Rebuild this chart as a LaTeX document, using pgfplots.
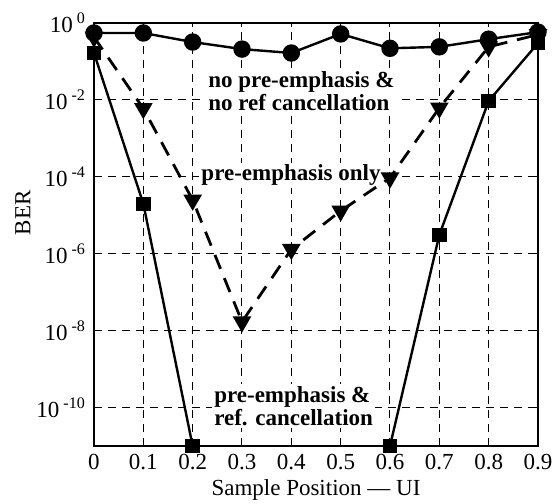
\documentclass[border=0pt]{standalone}
\usepackage{fontspec}
\setmainfont{Liberation Serif}
\usepackage{pgfplots}
\pgfplotsset{compat=1.18}

\begin{document}
\fontsize{11.5}{13}\selectfont
\begin{tikzpicture}
\begin{semilogyaxis}[
  scale only axis,
  width=222pt, height=211.5pt,
  xmin=0, xmax=0.9, ymin=1e-11, ymax=1,
  xtick={0,0.1,0.2,0.3,0.4,0.5,0.6,0.7,0.8,0.9},
  xticklabels={0,0.1,0.2,0.3,0.4,0.5,0.6,0.7,0.8,0.9},
  ytick={1,1e-2,1e-4,1e-6,1e-8,1e-10},
  yticklabels={10\hspace{2pt}\textsuperscript{0},10\hspace{2pt}\textsuperscript{-2},10\hspace{2pt}\textsuperscript{-4},10\hspace{2pt}\textsuperscript{-6},10\hspace{2pt}\textsuperscript{-8},10\hspace{2pt}\textsuperscript{-10}},
  yminorticks=false,
  grid=major,
  major grid style={black, line width=0.5pt, dash pattern=on 4pt off 3pt},
  axis line style={line width=1.1pt},
  tick style={black, line width=0.5pt},
  major tick length=2pt,
  tick align=inside,
  clip=false,
  xlabel={Sample Position --- UI},
  ylabel={BER},
  every axis x label/.style={at={(rel axis cs:0.5,-0.105)}, anchor=center},
  every axis y label/.style={at={(rel axis cs:-0.16,0.551)}, rotate=90, anchor=center},
]
\coordinate (bbsw) at (rel axis cs:-0.2117,-0.1348);
\coordinate (bbne) at (rel axis cs:1.0428,1.0544);

\node[anchor=west, align=left, fill=white, inner sep=1pt,
  font=\bfseries\fontsize{11.5}{11.5}\selectfont]
  at (axis cs:0.227,0.0166) {no pre-emphasis \&\\no ref cancellation};
\node[anchor=west, fill=white, inner sep=1pt, font=\bfseries\fontsize{11.5}{11.5}\selectfont]
  at (axis cs:0.213,1.1e-4) {pre-emphasis only};
\node[anchor=west, align=left, fill=white, inner sep=1pt,
  font=\bfseries\fontsize{11.5}{11.5}\selectfont]
  at (axis cs:0.239,1.1e-10) {pre-emphasis \&\\ref. cancellation};

% no pre-emphasis & no ref cancellation
\addplot[black, line width=1.2pt, mark=*, mark size=3.75pt] coordinates {
  (0,0.55) (0.1,0.55) (0.2,0.32) (0.3,0.21) (0.4,0.166)
  (0.5,0.52) (0.6,0.22) (0.7,0.24) (0.8,0.38) (0.9,0.58)
};
% pre-emphasis only
\addplot[black, line width=1.4pt, dash pattern=on 7.5pt off 5pt,
  mark=triangle*, mark size=4pt, mark options={solid, rotate=180}] coordinates {
  (0,0.43) (0.1,6e-3) (0.2,2.5e-5) (0.3,1.7e-8) (0.4,1.3e-6)
  (0.5,1.3e-5) (0.6,9.4e-5) (0.7,6.2e-3) (0.8,0.24) (0.9,0.5)
};
% pre-emphasis & ref. cancellation
\addplot[black, line width=1.2pt, mark=square*, mark size=3pt] coordinates {
  (0,0.166) (0.1,2e-5) (0.2,1e-11)
};
\addplot[black, line width=1.2pt, mark=square*, mark size=3pt] coordinates {
  (0.6,1e-11) (0.7,3.1e-6) (0.8,9.4e-3) (0.9,0.30)
};
\end{semilogyaxis}
\pgfresetboundingbox
\path (bbsw) rectangle (bbne);
\end{tikzpicture}
\end{document}
